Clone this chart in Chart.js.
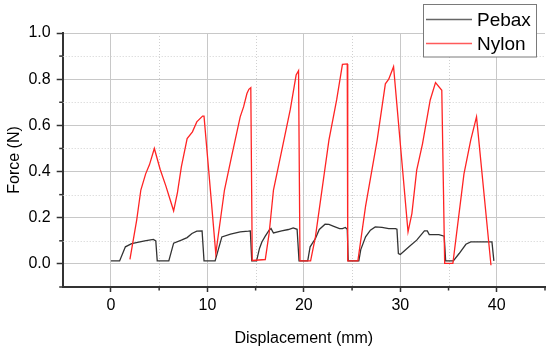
<!DOCTYPE html>
<html>
<head>
<meta charset="utf-8">
<script src="https://cdn.jsdelivr.net/npm/chart.js@4.4.1/dist/chart.umd.min.js"></script>
<style>
html, body { margin: 0; padding: 0; background: #fff; }
canvas { display: block; }
</style>
</head>
<body>
<canvas id="chart" width="550" height="346"></canvas>
<script>
// values
var seriesNames = ["Pebax", "Nylon"];
var pebaxX = [0, 0.9, 1.5, 2.15, 3.5, 4.4, 4.65, 4.8, 6.0, 6.5, 7.3, 7.9, 8.4, 8.9, 9.45, 9.65, 10.8, 11.5, 12.4, 13.4,
    14.25, 14.45, 14.6, 15.1, 15.4, 15.65, 16.0, 16.4, 16.6, 16.85, 17.7, 18.4, 18.9, 19.3, 19.5, 20.4, 20.65, 21.2, 21.6, 22.2,
    22.6, 23.1, 23.7, 24.0, 24.3, 24.5, 24.6, 25.7, 25.9, 26.4, 26.9, 27.4, 28.1, 28.8, 29.5, 29.65, 29.8, 30.0, 30.9, 31.7,
    32.5, 32.8, 33.0, 34.0, 34.55, 34.7, 35.5, 36.1, 36.8, 37.3, 38.7, 39.5, 39.7];
var pebaxY = [0.013, 0.013, 0.074, 0.088, 0.100, 0.106, 0.100, 0.013, 0.013, 0.090, 0.103, 0.114, 0.132, 0.142, 0.143, 0.013, 0.013, 0.117, 0.129, 0.139,
    0.142, 0.143, 0.013, 0.013, 0.067, 0.095, 0.120, 0.146, 0.153, 0.134, 0.143, 0.149, 0.156, 0.150, 0.013, 0.013, 0.074, 0.110, 0.149, 0.172,
    0.171, 0.163, 0.153, 0.153, 0.158, 0.150, 0.013, 0.013, 0.062, 0.117, 0.146, 0.160, 0.158, 0.153, 0.153, 0.150, 0.045, 0.041, 0.074, 0.103,
    0.143, 0.143, 0.127, 0.127, 0.120, 0.013, 0.013, 0.045, 0.085, 0.095, 0.095, 0.095, 0.013];
var nylonX = [1.97, 2.67, 3.1, 3.6, 4.0, 4.5, 5.1, 5.7, 6.05, 6.5, 6.9, 7.3, 7.9, 8.45, 8.9, 9.5, 9.65, 10.4, 10.87, 11.77,
    12.5, 13.4, 13.75, 14.1, 14.3, 14.5, 14.65, 16.0, 16.4, 16.85, 17.7, 18.6, 19.2, 19.45, 19.6, 20.7, 21.2, 22.6, 23.4, 24.0,
    24.5, 24.55, 25.6, 26.4, 27.6, 28.45, 28.8, 29.3, 30.8, 31.2, 31.7, 32.3, 33.1, 33.65, 34.3, 34.6, 35.45, 36.6, 37.3, 37.9, 39.4];
var nylonY = [0.020, 0.190, 0.320, 0.390, 0.430, 0.500, 0.410, 0.337, 0.290, 0.230, 0.310, 0.420, 0.543, 0.572, 0.615, 0.640, 0.640, 0.276, 0.045, 0.320,
    0.464, 0.637, 0.680, 0.738, 0.756, 0.763, 0.015, 0.019, 0.132, 0.320, 0.490, 0.670, 0.818, 0.837, 0.013, 0.013, 0.117, 0.536, 0.710, 0.864,
    0.866, 0.013, 0.013, 0.250, 0.536, 0.780, 0.800, 0.854, 0.139, 0.218, 0.406, 0.520, 0.710, 0.785, 0.752, 0.002, 0.002, 0.390, 0.536, 0.637, -0.006];
var xTicks = [0, 10, 20, 30, 40];
var yTicks = [0, 0.2, 0.4, 0.6, 0.8, 1.0];
var xMinor = [5, 15, 25, 35, 45];
var yMinor = [-0.1, 0.1, 0.3, 0.5, 0.7, 0.9];

var FONT = "'Liberation Sans', Arial, sans-serif";
var colors = ["#333333", "#ff2424"];
var legendColors = ["#666666", "#ff5a5a"];

function toPoints(xs, ys){
    var pts = [];
    for(var i=0;i<xs.length;i++){
        pts.push({x: xs[i], y: ys[i]});
    }
    return pts;
}

function setTicks(values){
    return function(scale){
        scale.ticks = values.map(function(v){ return {value: v}; });
    };
}

// dotted minor grid + short minor ticks (Origin style)
var minorGrid = {
    id: "minorGrid",
    beforeDatasetsDraw: function(chart){
        var ctx = chart.ctx, a = chart.chartArea;
        var xs = chart.scales.x, ys = chart.scales.y;
        var i, p;
        ctx.save();
        ctx.strokeStyle = "#d0d0d0";
        ctx.lineWidth = 1;
        ctx.setLineDash([1, 2]);
        for(i=0;i<xMinor.length;i++){
            p = Math.round(xs.getPixelForValue(xMinor[i])) + 0.5;
            if(p >= a.right - 1) continue;
            ctx.beginPath(); ctx.moveTo(p, a.top); ctx.lineTo(p, a.bottom); ctx.stroke();
        }
        for(i=0;i<yMinor.length;i++){
            p = Math.round(ys.getPixelForValue(yMinor[i])) + 0.5;
            if(p >= a.bottom - 1) continue;
            ctx.beginPath(); ctx.moveTo(a.left, p); ctx.lineTo(a.right, p); ctx.stroke();
        }
        ctx.setLineDash([]);
        ctx.strokeStyle = "#333";
        ctx.lineWidth = 1.5;
        for(i=0;i<xMinor.length;i++){
            p = xs.getPixelForValue(xMinor[i]);
            ctx.beginPath(); ctx.moveTo(p, a.bottom); ctx.lineTo(p, a.bottom + 3.5); ctx.stroke();
        }
        for(i=0;i<yMinor.length;i++){
            p = ys.getPixelForValue(yMinor[i]);
            ctx.beginPath(); ctx.moveTo(a.left, p); ctx.lineTo(a.left - 3.5, p); ctx.stroke();
        }
        ctx.restore();
    }
};

// boxed legend sitting in the top-right corner
var boxLegend = {
    id: "boxLegend",
    afterDraw: function(chart){
        var ctx = chart.ctx;
        var x0 = 423, y0 = 4.5, w = 113, h = 52.5;
        ctx.save();
        ctx.fillStyle = "#fff";
        ctx.fillRect(x0, y0, w, h);
        ctx.strokeStyle = "#7a7a7a";
        ctx.lineWidth = 1;
        ctx.strokeRect(x0 + 0.5, y0, w, h);
        ctx.font = "19px " + FONT;
        ctx.textBaseline = "middle";
        for(var i=0;i<seriesNames.length;i++){
            var cy = 19.5 + i * 24;
            ctx.strokeStyle = legendColors[i];
            ctx.lineWidth = 1.5;
            ctx.beginPath(); ctx.moveTo(426, cy); ctx.lineTo(472, cy); ctx.stroke();
            ctx.fillStyle = "#000";
            ctx.fillText(seriesNames[i], 477, cy + 1);
        }
        ctx.restore();
    }
};

var datasets = [
    {label: seriesNames[0], data: toPoints(pebaxX, pebaxY), borderColor: colors[0], borderWidth: 1.3, order: 1},
    {label: seriesNames[1], data: toPoints(nylonX, nylonY), borderColor: colors[1], borderWidth: 1.3, order: 0}
];

var ctx = document.getElementById("chart").getContext("2d");
var chart = new Chart(ctx, {
    type: "line",
    data: {datasets: datasets},
    options: {
        responsive: false,
        animation: false,
        devicePixelRatio: 1,
        layout: {padding: {top: 33, right: 5, left: 0, bottom: 0}},
        elements: {point: {radius: 0}, line: {tension: 0, fill: false}},
        plugins: {legend: {display: false}, tooltip: {enabled: false}},
        scales: {
            x: {
                type: "linear",
                min: -5,
                max: 45,
                afterBuildTicks: setTicks(xTicks),
                afterFit: function(scale){ scale.height = 59; },
                grid: {color: "#c8c8c8", lineWidth: 1, tickColor: "#333", tickLength: 5, tickWidth: 1.5},
                border: {color: "#333", width: 2},
                ticks: {color: "#000", font: {size: 16, family: FONT}, padding: 4, maxRotation: 0},
                title: {display: true, text: "Displacement (mm)", color: "#000", font: {size: 16, family: FONT}, padding: {top: 0, bottom: -2}}
            },
            y: {
                type: "linear",
                min: -0.1,
                max: 1.0,
                afterBuildTicks: setTicks(yTicks),
                afterFit: function(scale){ scale.width = 62.7; },
                grid: {color: "#c8c8c8", lineWidth: 1, tickColor: "#333", tickLength: 6, tickWidth: 1.5},
                border: {color: "#333", width: 2},
                ticks: {
                    color: "#000", font: {size: 16, family: FONT}, padding: 6,
                    callback: function(v){ return v.toFixed(1); }
                },
                title: {display: true, text: "Force (N)", color: "#000", font: {size: 16, family: FONT}, padding: {top: 5, bottom: 0}}
            }
        }
    },
    plugins: [minorGrid, boxLegend]
});
</script>
</body>
</html>
